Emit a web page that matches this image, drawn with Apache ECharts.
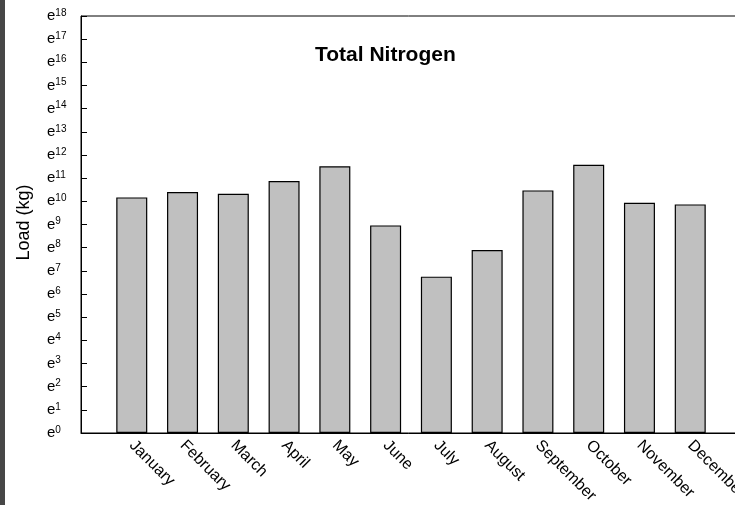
<!DOCTYPE html>
<html>
<head>
<meta charset="utf-8">
<title>Total Nitrogen</title>
<script src="https://cdn.jsdelivr.net/npm/echarts@6/dist/echarts.min.js"></script>
<style>
  html, body { margin: 0; padding: 0; background: #fff; }
  #chart { width: 735px; height: 505px; }
</style>
</head>
<body>
<div id="chart"></div>
<script>
const months = ['January', 'February', 'March', 'April', 'May', 'June',
  'July', 'August', 'September', 'October', 'November', 'December'];
const loadKg = [26100, 32900, 30600, 53100, 99700, 7790,
  854, 2700, 35300, 106900, 20700, 19300];
// y ticks are powers of e, 0..18
const powMin = 0;
const powMax = 18;

// pad a blank slot at each end so the months sit on ticks like the original
const cats = [''].concat(months, ['']);
const vals = [null].concat(loadKg, [null]);

const chart = echarts.init(document.getElementById('chart'), null, { renderer: 'canvas' });

chart.setOption({
  animation: false,
  textStyle: { fontFamily: 'Liberation Sans, Arial, sans-serif' },
  title: {
    text: 'Total Nitrogen',
    left: 315,
    top: 45,
    padding: 0,
    textStyle: { fontSize: 21, fontWeight: 'bold', color: '#000' }
  },
  graphic: [
    // dark strip on the far left of the original screenshot
    { type: 'rect', left: 0, top: 0, shape: { width: 5, height: 505 }, style: { fill: '#474747' } }
  ],
  grid: {
    left: 81,
    top: 16,
    right: -6,
    bottom: 72,
    outerBoundsMode: 'none',
    show: true,
    borderColor: '#000',
    borderWidth: 1
  },
  xAxis: {
    type: 'category',
    data: cats,
    boundaryGap: false,
    axisLine: { lineStyle: { color: '#000', width: 1 } },
    axisTick: { show: false },
    splitLine: { show: false },
    axisLabel: {
      rotate: -45,
      margin: 10,
      fontSize: 16,
      color: '#000',
      interval: 0
    }
  },
  yAxis: {
    type: 'log',
    logBase: Math.E,
    min: Math.exp(powMin),
    max: Math.exp(powMax),
    interval: 1,
    name: 'Load (kg)',
    nameLocation: 'middle',
    nameGap: 48,
    nameTextStyle: { fontSize: 18, color: '#000', padding: [0, 0, 0, 4] },
    axisLine: { show: true, lineStyle: { color: '#000', width: 1 } },
    axisTick: { show: true, inside: true, length: 6, lineStyle: { color: '#000' } },
    splitLine: { show: false },
    axisLabel: {
      align: 'left',
      margin: 34,
      color: '#000',
      formatter: function (v) {
        const n = Math.round(Math.log(v));
        return '{e|e}{s|' + n + '}';
      },
      rich: {
        e: { fontSize: 15, color: '#000' },
        s: { fontSize: 10, color: '#000', verticalAlign: 'top', padding: [0, 0, 6, 0] }
      }
    }
  },
  series: [
    {
      name: 'Total Nitrogen',
      type: 'bar',
      data: vals,
      barWidth: 31,
      itemStyle: { color: '#c0c0c0', borderColor: '#000', borderWidth: 1.2 }
    }
  ]
});
</script>
</body>
</html>
